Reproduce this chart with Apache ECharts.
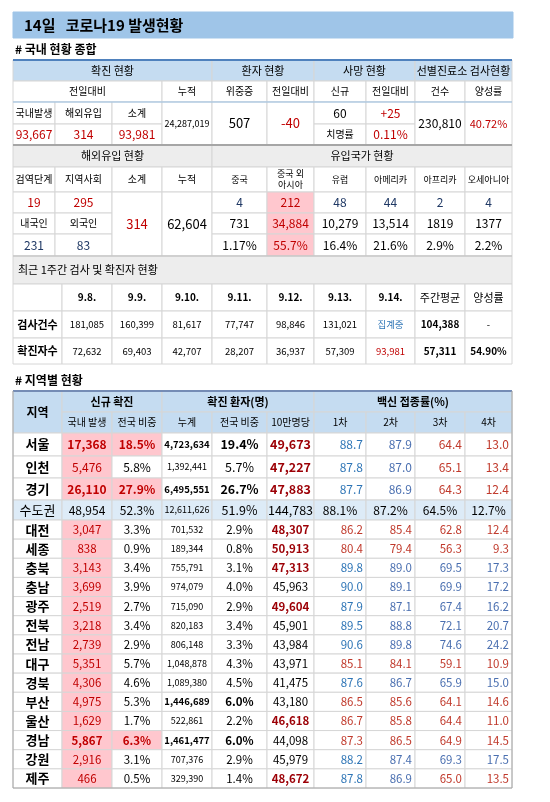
<!DOCTYPE html><html><head><meta charset="utf-8">
<script src="https://cdn.jsdelivr.net/npm/echarts@6/dist/echarts.min.js"></script>
<style>html,body{margin:0;padding:0;background:#fff}#c{width:550px;height:802px}</style></head><body><div id="c"></div>
<script>
const title = '14일   코로나19 발생현황';
const sec1Title = '# 국내 현황 종합';
const sec3Title = '# 지역별 현황';
const weekTitle = '최근 1주간 검사 및 확진자 현황';
const weekDates = ['9.8.','9.9.','9.10.','9.11.','9.12.','9.13.','9.14.','주간평균','양성률'];
const weekTests = ['181,085','160,399','81,617','77,747','98,846','131,021','집계중','104,388','-'];
const weekCases = ['72,632','69,403','42,707','28,207','36,937','57,309','93,981','57,311','54.90%'];
const importLabels = ['검역단계','지역사회','소계','누적','중국','중국 외\n아시아','유럽','아메리카','아프리카','오세아니아'];
const importCounts = ['4','212','48','44','2','4'];
const importCum = ['731','34,884','10,279','13,514','1819','1377'];
const importPct = ['1.17%','55.7%','16.4%','21.6%','2.9%','2.2%'];
const regions = ['서울','인천','경기','수도권','대전','세종','충북','충남','광주','전북','전남','대구','경북','부산','울산','경남','강원','제주'];
const newCases = ['17,368','5,476','26,110','48,954','3,047','838','3,143','3,699','2,519','3,218','2,739','5,351','4,306','4,975','1,629','5,867','2,916','466'];
const newShare = ['18.5%','5.8%','27.9%','52.3%','3.3%','0.9%','3.4%','3.9%','2.7%','3.4%','2.9%','5.7%','4.6%','5.3%','1.7%','6.3%','3.1%','0.5%'];
const cumCases = ['4,723,634','1,392,441','6,495,551','12,611,626','701,532','189,344','755,791','974,079','715,090','820,183','806,148','1,048,878','1,089,380','1,446,689','522,861','1,461,477','707,376','329,390'];
const cumShare = ['19.4%','5.7%','26.7%','51.9%','2.9%','0.8%','3.1%','4.0%','2.9%','3.4%','3.3%','4.3%','4.5%','6.0%','2.2%','6.0%','2.9%','1.4%'];
const per100k = ['49,673','47,227','47,883','144,783','48,307','50,913','47,313','45,963','49,604','45,901','43,984','43,971','41,475','43,180','46,618','44,098','45,979','48,672'];
const vac1 = ['88.7','87.8','87.7','88.1%','86.2','80.4','89.8','90.0','87.9','89.5','90.6','85.1','87.6','86.5','86.7','87.3','88.2','87.8'];
const vac2 = ['87.9','87.0','86.9','87.2%','85.4','79.4','89.0','89.1','87.1','88.8','89.8','84.1','86.7','85.6','85.8','86.5','87.4','86.9'];
const vac3 = ['64.4','65.1','64.3','64.5%','62.8','56.3','69.5','69.9','67.4','72.1','74.6','59.1','65.9','64.1','64.4','64.9','69.3','65.0'];
const vac4 = ['13.0','13.4','12.4','12.7%','12.4','9.3','17.3','17.2','16.2','20.7','24.2','10.9','15.0','14.6','11.0','14.5','17.5','13.5'];
const vacColor = ['bbrr','bbrr','bbrr','kkkk','rrrr','rrrr','bbbb','bbbb','bbbb','bbbb','bbbb','rrrr','bbbb','rrrr','rrrr','rrrr','bbbb','bbrr'];
const boldNew = ['서울','경기','경남'];
const boldCum = ['서울','경기','부산','경남'];
const red100k = ['서울','인천','경기','대전','세종','충북','광주','울산','제주'];

const FONT = '"Malgun Gothic","Noto Sans CJK KR",sans-serif';
const C = {blue:'#c5dcf1', title:'#9fc5e8', gray:'#ededed', pink:'#ffc7ce', red:'#c00000', dred:'#9c0006', navy:'#1f3864', line:'#d6d6d6', vb:'#2e75b6', vb2:'#4a6fb0', vr:'#c0392b', sub:'#ddebf7'};
const els = [];
function rect(x0,y0,x1,y1,fill,stroke){els.push({type:'rect',shape:{x:x0,y:y0,width:x1-x0,height:y1-y0},style:{fill:fill||'none',stroke:stroke||C.line,lineWidth:1}});}
function txt(x0,y0,x1,y1,t,o){o=o||{};const al=o.align||'center';const x=al==='center'?(x0+x1)/2:(al==='right'?x1-3:x0+5);
 els.push({type:'text',x:x,y:(y0+y1)/2,style:{text:t,fill:o.color||'#000',font:(o.bold?'bold ':'')+(o.size||11)+'px '+FONT,align:al,verticalAlign:'middle',lineHeight:(o.size||11)+2}});}
function cell(x0,y0,x1,y1,t,o){o=o||{};rect(x0,y0,x1,y1,o.bg||'#fff',o.stroke);if(t!=null)txt(x0,y0,x1,y1,t,o);}
function hline(x0,x1,y,c,w){els.push({type:'line',shape:{x1:x0,y1:y,x2:x1,y2:y},style:{stroke:c,lineWidth:w}});}

// Title
rect(13,12,513,38,C.title,C.title);
els.push({type:'text',x:24,y:25,style:{text:title,font:'bold 15px '+FONT,fill:'#000',verticalAlign:'middle'}});
els.push({type:'text',x:15,y:49,style:{text:sec1Title,font:'bold 12px '+FONT,fill:'#000',verticalAlign:'middle'}});

// Section 1
const X1=[13,55,112,162,212,267,314,366,415,465,512];
cell(13,60,212,81,'확진 현황',{bg:C.blue});cell(212,60,314,81,'환자 현황',{bg:C.blue});cell(314,60,415,81,'사망 현황',{bg:C.blue});cell(415,60,512,81,'선별진료소 검사현황',{bg:C.blue});
cell(13,81,162,102,'전일대비',{size:10});
['누적','위중증','전일대비','신규','전일대비','건수','양성률'].forEach((t,i)=>cell(X1[i+3],81,X1[i+4],102,t,{size:10}));
['국내발생','해외유입','소계'].forEach((t,i)=>cell(X1[i],102,X1[i+1],124,t,{size:10}));
['93,667','314','93,981'].forEach((t,i)=>cell(X1[i],124,X1[i+1],145,t,{color:C.red,size:12}));
cell(162,102,212,145,'24,287,019',{size:9});
cell(212,102,267,145,'507',{size:13});
cell(267,102,314,145,'-40',{size:13,color:C.red});
cell(314,102,366,124,'60',{size:12});cell(366,102,415,124,'+25',{size:12,color:C.red});
cell(314,124,366,145,'치명률',{size:10});cell(366,124,415,145,'0.11%',{size:12,color:C.red});
cell(415,102,465,145,'230,810',{size:12});cell(465,102,512,145,'40.72%',{size:11,color:C.red});
hline(13,512,60,'#4f81bd',2);hline(13,512,102,'#9dc3e6',1);

// Import section
cell(13,145,212,167,'해외유입 현황',{bg:C.gray});cell(212,145,512,167,'유입국가 현황',{bg:C.gray});
importLabels.forEach((t,i)=>cell(X1[i],167,X1[i+1],192,t,{size:i>=4?9:10}));
cell(13,192,55,213,'19',{color:C.red,size:12});cell(55,192,112,213,'295',{color:C.red,size:12});
cell(13,213,55,234,'내국인',{size:10});cell(55,213,112,234,'외국인',{size:10});
cell(13,234,55,256,'231',{color:C.navy,size:12});cell(55,234,112,256,'83',{color:C.navy,size:12});
cell(112,192,162,256,'314',{color:C.red,size:13});
cell(162,192,212,256,'62,604',{size:13});
importCounts.forEach((t,i)=>cell(X1[i+4],192,X1[i+5],213,t,{size:12,color:i===1?C.red:C.navy,bg:i===1?C.pink:'#fff'}));
importCum.forEach((t,i)=>cell(X1[i+4],213,X1[i+5],234,t,{size:12,color:i===1?C.red:'#000',bg:i===1?C.pink:'#fff'}));
importPct.forEach((t,i)=>cell(X1[i+4],234,X1[i+5],256,t,{size:12,color:i===1?C.red:'#000',bg:i===1?C.pink:'#fff'}));
hline(13,512,145,'#a6a6a6',2);

// Week section
const X2=[13,62,112,162,212,267,314,366,415,465,512];
cell(13,256,512,284,weekTitle,{bg:C.gray,align:'left',size:11});
cell(13,284,62,311,'');
weekDates.forEach((t,i)=>cell(X2[i+1],284,X2[i+2],311,t,{bold:i<7,size:i<7?10:11}));
cell(13,311,62,338,'검사건수',{bold:true,size:11});cell(13,338,62,364,'확진자수',{bold:true,size:11});
weekTests.forEach((t,i)=>cell(X2[i+1],311,X2[i+2],338,t,{size:i===7?10:9.5,bold:i===7,color:i===6?C.vb:'#000'}));
weekCases.forEach((t,i)=>cell(X2[i+1],338,X2[i+2],364,t,{size:i>=7?10:9.5,bold:i>=7,color:i===6?C.red:'#000'}));
hline(13,512,256,'#bfbfbf',1);

// Region section
els.push({type:'text',x:15,y:380,style:{text:sec3Title,font:'bold 12px '+FONT,fill:'#000',verticalAlign:'middle'}});
cell(13,391,62,433,'지역',{bg:C.blue,bold:true,size:12});
cell(62,391,162,412,'신규 확진',{bg:C.blue,bold:true});cell(162,391,314,412,'확진 환자(명)',{bg:C.blue,bold:true});cell(314,391,512,412,'백신 접종률(%)',{bg:C.blue,bold:true});
['국내 발생','전국 비중','누계','전국 비중','10만명당','1차','2차','3차','4차'].forEach((t,i)=>cell(X2[i+1],412,X2[i+2],433,t,{bg:C.blue,size:10}));
const rowY=[433,456,478,500,520];for(let i=5;i<=18;i++)rowY.push(520+(i-4)*((788-520)/14));
regions.forEach((r,i)=>{
 const y0=rowY[i],y1=rowY[i+1],big=i<3,sub=i===3;
 const bg=sub?C.sub:'#fff';
 cell(13,y0,62,y1,r,{bold:!sub,size:13,bg:bg});
 const bn=boldNew.includes(r);
 cell(62,y0,112,y1,newCases[i],{bg:sub?bg:C.pink,color:sub?'#000':C.red,bold:bn,size:big||sub?12:11.5});
 cell(112,y0,162,y1,newShare[i],{bg:bn?C.pink:bg,color:bn?C.red:'#000',bold:bn,size:big||sub?12:11.5});
 const bc=boldCum.includes(r);
 cell(162,y0,212,y1,cumCases[i],{bg:bg,bold:bc,size:bc?9.5:9});
 cell(212,y0,267,y1,cumShare[i],{bg:bg,bold:bc,size:big||sub?12.5:11.5});
 const rk=red100k.includes(r);
 cell(267,y0,314,y1,per100k[i],{bg:bg,bold:rk,color:rk?C.dred:'#000',size:big||sub?12.5:11.5});
 [vac1,vac2,vac3,vac4].forEach((v,k)=>{const c=vacColor[i][k];
  cell(X2[k+6],y0,X2[k+7],y1,v[i],{bg:bg,align:sub?'center':'right',size:big||sub?12:11.5,color:c==='b'?(k===0?C.vb:C.vb2):(c==='r'?C.vr:'#000')});});
});
hline(13,512,391,'#4472c4',2);
rect(13,391,512,788,'none','#a6a6a6');

const chart=echarts.init(document.getElementById('c'),null,{renderer:'canvas'});
chart.setOption({animation:false,graphic:{elements:els}});
</script></body></html>
